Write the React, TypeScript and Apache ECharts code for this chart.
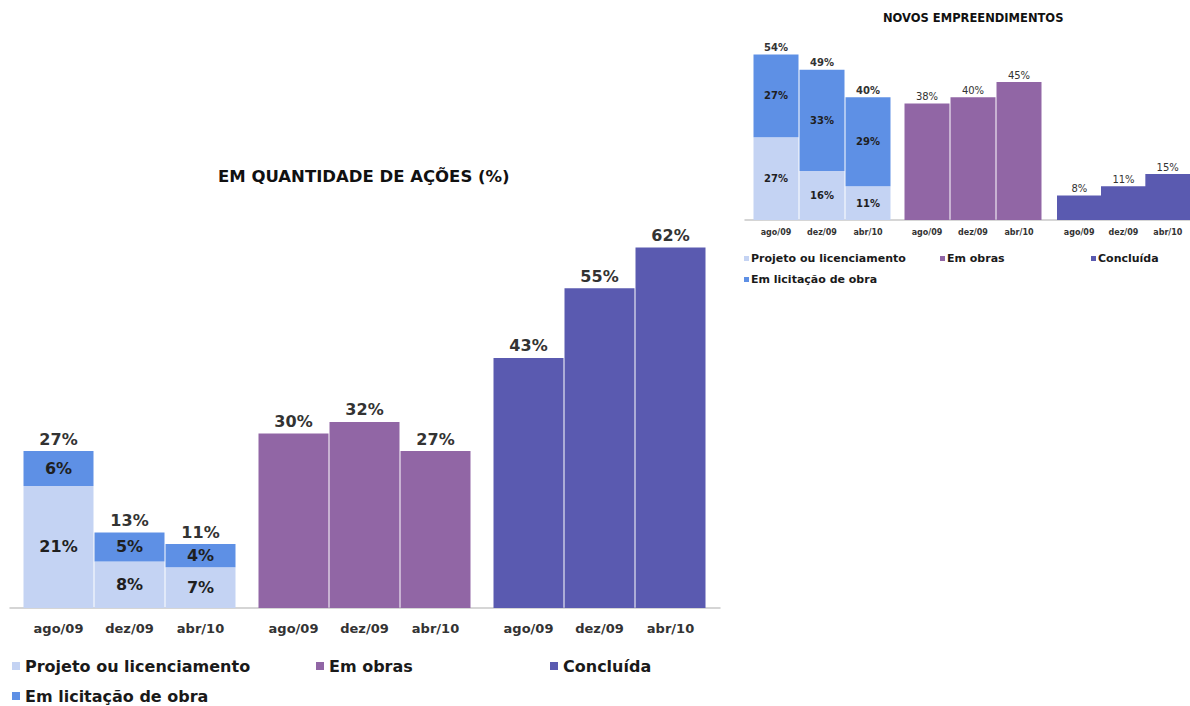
import React, { useEffect, useRef } from 'react';
import * as echarts from 'echarts';

const months = ['ago/09', 'dez/09', 'abr/10'];

const bigProjeto = [21, 8, 7];
const bigLicitacao = [6, 5, 4];
const bigTotal = [27, 13, 11];
const bigObras = [30, 32, 27];
const bigConcluida = [43, 55, 62];

const smallProjeto = [27, 16, 11];
const smallLicitacao = [27, 33, 29];
const smallTotal = [54, 49, 40];
const smallObras = [38, 40, 45];
const smallConcluida = [8, 11, 15];

const N_PROJ = 'Projeto ou licenciamento';
const N_LIC = 'Em licitação de obra';
const N_OBRAS = 'Em obras';
const N_CONC = 'Concluída';

const C_PROJ = '#C4D3F3';
const C_LIC = '#5E90E5';
const C_OBRAS = '#9166A5';
const C_CONC = '#5A5AB0';

const FONT = 'DejaVu Sans';

export default function App() {
  const ref = useRef<HTMLDivElement>(null);

  useEffect(() => {
    if (!ref.current) return;
    const chart = echarts.init(ref.current, undefined, { renderer: 'svg' });

    const bigGrid = { top: 201, height: 407 };
    const smallGrid = { top: 36, height: 184 };

    const grids = [
      { left: 23, width: 213, ...bigGrid },
      { left: 258, width: 213, ...bigGrid },
      { left: 493, width: 213, ...bigGrid },
      { left: 753, width: 138, ...smallGrid },
      { left: 904, width: 138, ...smallGrid },
      { left: 1057, width: 138, ...smallGrid },
      { left: 10, width: 710, ...bigGrid },
      { left: 745, width: 445, ...smallGrid },
    ];

    const catAxis = (gridIndex: number, big: boolean) => ({
      type: 'category',
      gridIndex,
      data: months,
      axisLine: { show: false },
      axisTick: { show: false },
      axisLabel: {
        color: '#333',
        fontFamily: FONT,
        fontWeight: 'bold',
        fontSize: big ? 13 : 8,
        margin: big ? 14 : 8,
      },
    });

    const baseAxis = (gridIndex: number) => ({
      type: 'value',
      gridIndex,
      min: 0,
      max: 1,
      axisLine: { show: true, onZero: false, lineStyle: { color: '#c8c8c8', width: 1.5 } },
      axisTick: { show: false },
      axisLabel: { show: false },
      splitLine: { show: false },
    });

    const yAx = (gridIndex: number, max: number) => ({
      type: 'value',
      gridIndex,
      min: 0,
      max,
      show: false,
      splitLine: { show: false },
    });

    const lbl = (pos: string, big: boolean, bold: boolean) => ({
      show: true,
      position: pos,
      formatter: '{c}%',
      color: pos === 'top' ? '#333' : '#1f1f1f',
      fontFamily: FONT,
      fontWeight: bold ? 'bold' : 'normal',
      fontSize: big ? 16 : 10,
      distance: big ? 4 : 2,
    });

    const bar = (name: string, data: number[], axis: number, color: string, big: boolean, extra: any) => ({
      type: 'bar',
      name,
      data,
      xAxisIndex: axis,
      yAxisIndex: axis,
      barWidth: big ? 70 : 45,
      barGap: '-100%',
      itemStyle: { color },
      emphasis: { disabled: true },
      ...extra,
    });

    const series: any[] = [
      bar(N_PROJ, bigProjeto, 0, C_PROJ, true, { stack: 'b1', label: lbl('inside', true, true) }),
      bar(N_LIC, bigLicitacao, 0, C_LIC, true, { stack: 'b1', label: lbl('inside', true, true) }),
      bar('totalBig', bigTotal, 0, 'rgba(0,0,0,0)', true, { label: lbl('top', true, true), z: 1 }),
      bar(N_OBRAS, bigObras, 1, C_OBRAS, true, { label: lbl('top', true, true) }),
      bar(N_CONC, bigConcluida, 2, C_CONC, true, { label: lbl('top', true, true) }),
      bar(N_PROJ, smallProjeto, 3, C_PROJ, false, { stack: 's1', label: lbl('inside', false, true) }),
      bar(N_LIC, smallLicitacao, 3, C_LIC, false, { stack: 's1', label: lbl('inside', false, true) }),
      bar('totalSmall', smallTotal, 3, 'rgba(0,0,0,0)', false, { label: lbl('top', false, true), z: 1 }),
      bar(N_OBRAS, smallObras, 4, C_OBRAS, false, { label: lbl('top', false, false) }),
      bar(N_CONC, smallConcluida, 5, C_CONC, false, { label: lbl('top', false, false) }),
    ];

    const legend = (name: string, left: number, top: number, big: boolean) => ({
      data: [name],
      left,
      top,
      orient: 'horizontal',
      icon: 'rect',
      itemWidth: big ? 8 : 5,
      itemHeight: big ? 8 : 5,
      padding: 0,
      selectedMode: false,
      textStyle: {
        color: '#1a1a1a',
        fontFamily: FONT,
        fontWeight: 'bold',
        fontSize: big ? 16 : 11,
        padding: big ? [0, 0, 0, 0] : [0, 0, 0, -3],
      },
    });

    chart.setOption({
      animation: false,
      backgroundColor: '#ffffff',
      title: [
        {
          text: 'EM QUANTIDADE DE AÇÕES (%)',
          left: 218,
          top: 168,
          padding: 0,
          textStyle: { fontFamily: FONT, fontWeight: 'bold', fontSize: 16.5, color: '#111' },
        },
        {
          text: 'NOVOS EMPREENDIMENTOS',
          left: 883,
          top: 12,
          padding: 0,
          textStyle: { fontFamily: FONT, fontWeight: 'bold', fontSize: 11.5, color: '#111' },
        },
      ],
      legend: [
        legend(N_PROJ, 12, 658, true),
        legend(N_OBRAS, 316, 658, true),
        legend(N_CONC, 550, 658, true),
        legend(N_LIC, 12, 688, true),
        legend(N_PROJ, 744, 253, false),
        legend(N_OBRAS, 940, 253, false),
        legend(N_CONC, 1091, 253, false),
        legend(N_LIC, 744, 274, false),
      ],
      grid: grids,
      xAxis: [
        catAxis(0, true),
        catAxis(1, true),
        catAxis(2, true),
        catAxis(3, false),
        catAxis(4, false),
        catAxis(5, false),
        baseAxis(6),
        baseAxis(7),
      ],
      yAxis: [
        yAx(0, 70),
        yAx(1, 70),
        yAx(2, 70),
        yAx(3, 60),
        yAx(4, 60),
        yAx(5, 60),
        yAx(6, 70),
        yAx(7, 60),
      ],
      series,
    });

    return () => chart.dispose();
  }, []);

  return (
    <div
      ref={ref}
      style={{ position: 'fixed', left: 0, top: 0, width: 1190, height: 706, background: '#fff' }}
    />
  );
}
